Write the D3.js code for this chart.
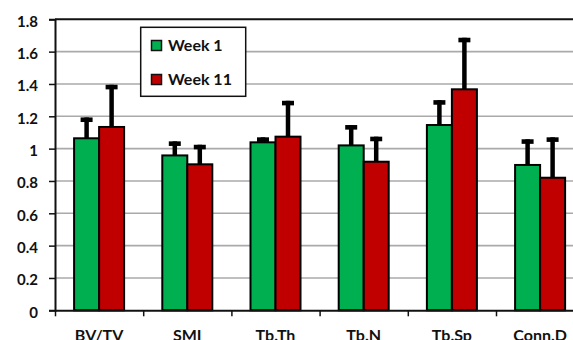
<!DOCTYPE html>
<html>
<head>
<meta charset="utf-8">
<script src="https://cdn.jsdelivr.net/npm/d3@7"></script>
<style>
  body { margin: 0; background: #fff; }
  text { font-family: Lato, "Open Sans", sans-serif; font-weight: 700; fill: #111; }
</style>
</head>
<body>
<div id="chart"></div>
<script>
const categories = ["BV/TV", "SMI", "Tb.Th", "Tb.N", "Tb.Sp", "Conn.D"];
const series = ["Week 1", "Week 11"];
const week1 = [1.064, 0.958, 1.039, 1.02, 1.146, 0.899];
const week11 = [1.134, 0.903, 1.074, 0.919, 1.367, 0.82];
// upper end of each error bar
const week1Err = [1.193, 1.045, 1.07, 1.146, 1.30, 1.058];
const week11Err = [1.395, 1.024, 1.296, 1.074, 1.686, 1.07];
const yTicks = [0, 0.2, 0.4, 0.6, 0.8, 1, 1.2, 1.4, 1.6, 1.8];

const W = 573, H = 340, M = {t: 19.3, l: 55, b: 30};
const svg = d3.select("#chart").append("svg")
  .attr("width", W)
  .attr("height", H);

const x0 = d3.scaleBand()
  .domain(categories)
  .range([M.l, M.l + 6 * 88.2]);

const x1 = d3.scaleBand()
  .domain(series)
  .range([19.1, 69.1]);

const y = d3.scaleLinear()
  .domain([0, 1.8])
  .range([310.3, M.t]);

const color = d3.scaleOrdinal()
  .domain(series)
  .range(["#00b050", "#c00000"]);

// gridlines
svg.append("g")
  .selectAll("line")
  .data(yTicks.slice(1, -1))
  .enter().append("line")
  .attr("x1", M.l).attr("x2", W)
  .attr("y1", d => y(d)).attr("y2", d => y(d))
  .attr("stroke", "#aaa")
  .attr("stroke-width", 1.6);

// top border
svg.append("line")
  .attr("x1", M.l).attr("x2", W)
  .attr("y1", y(1.8)).attr("y2", y(1.8))
  .attr("stroke", "#111").attr("stroke-width", 2);

const rows = [];
categories.forEach((c, i) => {
  rows.push({cat: c, s: "Week 1", v: week1[i], e: week1Err[i]});
  rows.push({cat: c, s: "Week 11", v: week11[i], e: week11Err[i]});
});

const cx = d => x0(d.cat) + x1(d.s) + x1.bandwidth() / 2;

// error bars
const err = svg.append("g");
err.selectAll(".stem")
  .data(rows)
  .enter().append("line")
  .attr("x1", cx).attr("x2", cx)
  .attr("y1", d => y(d.v)).attr("y2", d => y(d.e))
  .attr("stroke", "#000").attr("stroke-width", 4.5);
err.selectAll(".cap")
  .data(rows)
  .enter().append("line")
  .attr("x1", d => cx(d) - 6).attr("x2", d => cx(d) + 6)
  .attr("y1", d => y(d.e) + 2.3).attr("y2", d => y(d.e) + 2.3)
  .attr("stroke", "#000").attr("stroke-width", 4.6);

// bars
svg.append("g")
  .selectAll("rect")
  .data(rows)
  .enter().append("rect")
  .attr("x", d => x0(d.cat) + x1(d.s))
  .attr("y", d => y(d.v))
  .attr("width", x1.bandwidth())
  .attr("height", d => y(0) - y(d.v))
  .attr("fill", d => color(d.s))
  .attr("stroke", "#000")
  .attr("stroke-width", 2);

// y axis
const yAxis = svg.append("g")
  .attr("transform", `translate(${M.l},0)`)
  .call(d3.axisLeft(y).tickValues(yTicks).tickFormat(d => d3.format("")(+d.toFixed(1))).tickSize(6).tickPadding(11));
yAxis.select(".domain").attr("stroke", "#111").attr("stroke-width", 2);
yAxis.selectAll(".tick line").attr("stroke", "#111").attr("stroke-width", 1.5);
yAxis.selectAll("text").attr("font-size", 15).attr("font-family", "Lato, sans-serif")
  .attr("font-weight", 700).attr("fill", "#111").attr("dy", "0.45em");

// x axis
const xAxis = svg.append("g")
  .attr("transform", `translate(0,${y(0)})`)
  .call(d3.axisBottom(d3.scaleLinear().domain([0, 6]).range(x0.range()))
    .tickValues([0, 1, 2, 3, 4, 5, 6]).tickFormat("").tickSize(6).tickSizeOuter(0));
xAxis.select(".domain").attr("stroke", "#111").attr("stroke-width", 2);
xAxis.selectAll(".tick line").attr("stroke", "#111").attr("stroke-width", 1.5);

svg.append("g")
  .selectAll("text")
  .data(categories)
  .enter().append("text")
  .attr("x", d => x0(d) + x0.bandwidth() / 2)
  .attr("y", 340.5)
  .attr("text-anchor", "middle")
  .attr("font-size", 16)
  .text(d => d);

// legend
const lg = svg.append("g");
lg.append("rect")
  .attr("x", 140.7).attr("y", 27.3)
  .attr("width", 105).attr("height", 69)
  .attr("fill", "#fff").attr("stroke", "#111").attr("stroke-width", 1.5);
series.forEach((s, i) => {
  const yy = 40 + i * 34;
  lg.append("rect")
    .attr("x", 151.5).attr("y", yy + 0.5)
    .attr("width", 10).attr("height", 10)
    .attr("fill", color(s)).attr("stroke", "#111").attr("stroke-width", 1.5);
  lg.append("text")
    .attr("x", 168).attr("y", yy + 10.7)
    .attr("font-size", 16)
    .text(s);
});
</script>
</body>
</html>
